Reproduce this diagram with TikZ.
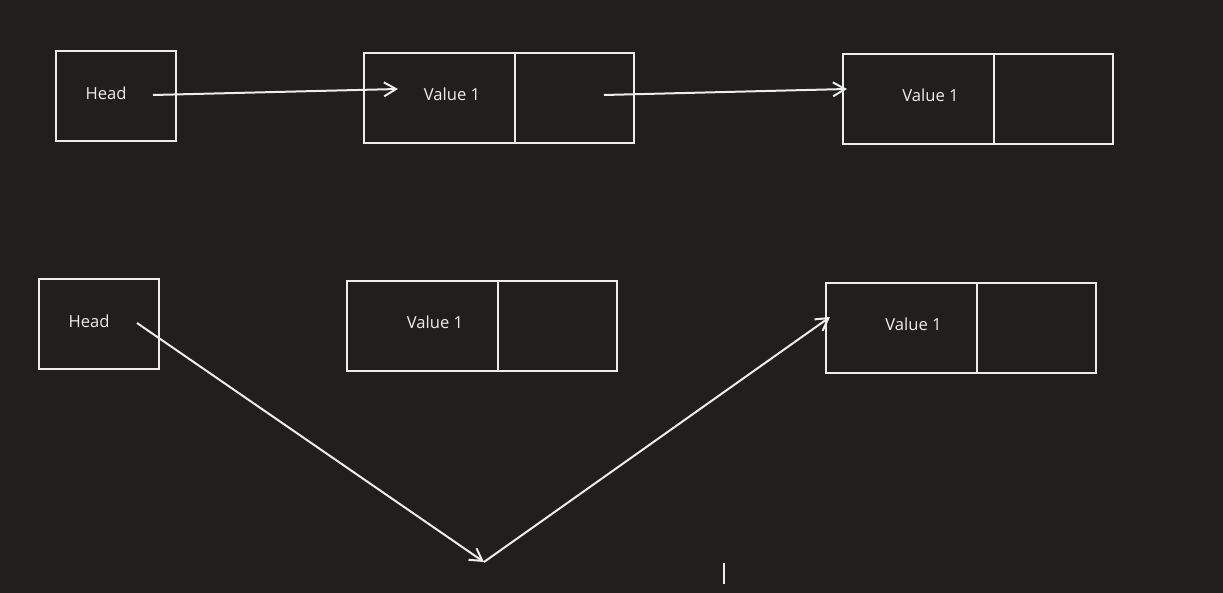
\documentclass[tikz,border=0pt]{standalone}
\usepackage{fontspec}
\setmainfont{Open Sans}
\usetikzlibrary{arrows.meta}

\definecolor{bgdark}{HTML}{201F1E}
\definecolor{chalk}{HTML}{EDEDED}

\tikzset{
    cell/.style={draw=chalk, line width=1pt, inner sep=0pt, outer sep=0pt, minimum height=45pt},
    txt/.style={text=chalk, inner sep=0pt, font=\fontsize{8.3}{10}\selectfont},
    link/.style={draw=chalk, line width=1pt, -{Straight Barb[length=6pt,width=7pt]}}
}

\begin{document}
\begin{tikzpicture}[x=0.5pt, y=-0.5pt]
    \fill[bgdark] (0,0) rectangle (1223,593);
    \useasboundingbox (0,0) rectangle (1223,593);

    % head boxes
    \node[cell, minimum width=60pt] (h1) at (116,96) {};
    \node[txt] (h1t) at ([shift={(50,-3)}]h1.west) {Head};
    \node[cell, minimum width=60pt] (h2) at (99,324) {};
    \node[txt] (h2t) at ([shift={(50,-3)}]h2.west) {Head};

    % list nodes: value cell + pointer cell
    \foreach \nm/\x/\y in {v1/439.5/98, v2/918/99, v3/422.5/326, v4/901/328} {
        \node[cell, minimum width=75.5pt] (\nm) at (\x,\y) {};
        \node[cell, minimum width=59.5pt, anchor=west] (\nm p) at (\nm.east) {};
        \node[txt] (\nm t) at ([shift={(88,-4)}]\nm.west) {Value 1};
    }

    % pointers
    \coordinate (h1out) at (153,95);
    \coordinate (v1in) at (398,89);
    \coordinate (v1out) at (604,95);
    \coordinate (v2in) at (847,89);
    \coordinate (h2out) at (137,323);
    \coordinate (nowhere) at (484,562);
    \coordinate (v4in) at (830,317);
    \draw[link] (h1out) -- (v1in);
    \draw[link] (v1out) -- (v2in);
    \draw[link] (h2out) -- (nowhere);
    \draw[link] (nowhere) -- (v4in);

    % text cursor
    \coordinate (caret) at (724,563);
    \draw[chalk, line width=0.6pt] (caret) -- ++(0,21);
\end{tikzpicture}
\end{document}
